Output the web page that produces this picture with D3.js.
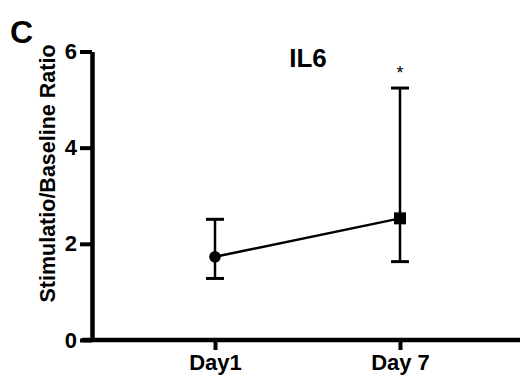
<!DOCTYPE html>
<html lang="en">
<head>
	<meta charset="utf-8">
	<title>IL6</title>
	<script src="https://cdnjs.cloudflare.com/ajax/libs/d3/7.8.5/d3.min.js"></script>
	<style>
	body { margin: 0; background: #fff; }
	svg text { font-family: "Liberation Sans", Arial, sans-serif; font-weight: bold; fill: #000; }
	</style>
</head>
<body>
<svg id="chart" width="520" height="383"></svg>
<script>
// data
var days = ['Day1', 'Day 7'];
var means = [1.73, 2.53];
var lower = [1.28, 1.63];
var upper = [2.51, 5.24];
var yTicks = [0, 2, 4, 6];

var svg = d3.select('#chart');
var axLeft = 92, axBottom = 340, axTop = 51.5;

var x = d3.scalePoint().domain(days).range([215, 400]);
var y = d3.scaleLinear().domain([0, 6]).range([axBottom, axTop]);

// y axis
var yAxis = svg.append('g')
	.attr('transform', 'translate(' + axLeft + ',0)')
	.call(d3.axisLeft(y).tickValues(yTicks).tickFormat(d3.format('d'))
		.tickSize(12).tickSizeOuter(0).tickPadding(3));
yAxis.select('.domain').style('stroke-width', '4.5px').style('stroke', '#000');
yAxis.selectAll('.tick line').style('stroke-width', '4px').style('stroke', '#000');
yAxis.selectAll('.tick text').style('font-size', '22px');

// x axis
var xAxis = svg.append('g')
	.attr('transform', 'translate(0,' + axBottom + ')')
	.call(d3.axisBottom(x).tickSize(10).tickPadding(4));
xAxis.select('.domain').remove();
xAxis.selectAll('.tick line').style('stroke-width', '4px').style('stroke', '#000');
xAxis.selectAll('.tick text').style('font-size', '22px');
svg.append('line')
	.attr('x1', axLeft - 10).attr('x2', 520)
	.attr('y1', y(0)).attr('y2', y(0))
	.style('stroke', '#000').style('stroke-width', '4.5px');

// error bars
var idx = d3.range(days.length);
svg.selectAll('.err').data(idx).enter().append('line')
	.attr('x1', function(i) { return x(days[i]); })
	.attr('x2', function(i) { return x(days[i]); })
	.attr('y1', function(i) { return y(lower[i]); })
	.attr('y2', function(i) { return y(upper[i]); })
	.attr('stroke', '#000').attr('stroke-width', 2.5);
['lo', 'hi'].forEach(function(k) {
	svg.selectAll('.cap' + k).data(idx).enter().append('line')
		.attr('x1', function(i) { return x(days[i]) - 9; })
		.attr('x2', function(i) { return x(days[i]) + 9; })
		.attr('y1', function(i) { return y(k == 'lo' ? lower[i] : upper[i]); })
		.attr('y2', function(i) { return y(k == 'lo' ? lower[i] : upper[i]); })
		.attr('stroke', '#000').attr('stroke-width', 3);
});

// line
svg.append('path')
	.datum(idx)
	.attr('d', d3.line().x(function(i) { return x(days[i]); }).y(function(i) { return y(means[i]); }))
	.attr('fill', 'none').attr('stroke', '#000').attr('stroke-width', 2.5);

// markers
svg.append('circle')
	.attr('cx', x(days[0])).attr('cy', y(means[0])).attr('r', 5.8).attr('fill', '#000');
svg.append('rect')
	.attr('x', x(days[1]) - 6).attr('y', y(means[1]) - 6)
	.attr('width', 12).attr('height', 12).attr('fill', '#000');

// star
svg.append('text')
	.attr('x', x(days[1])).attr('y', y(upper[1]) - 9)
	.attr('text-anchor', 'middle').style('font-size', '18px').style('font-weight', 'normal')
	.text('*');

// title, panel letter, y label
svg.append('text').attr('x', 308).attr('y', 67).attr('text-anchor', 'middle')
	.style('font-size', '26px').text('IL6');
svg.append('text').attr('x', 10).attr('y', 43).style('font-size', '32px').text('C');
svg.append('text')
	.attr('transform', 'translate(55,173.5) rotate(-90)')
	.attr('text-anchor', 'middle').style('font-size', '21.5px')
	.text('Stimulatio/Baseline Ratio');
</script>
</body>
</html>
